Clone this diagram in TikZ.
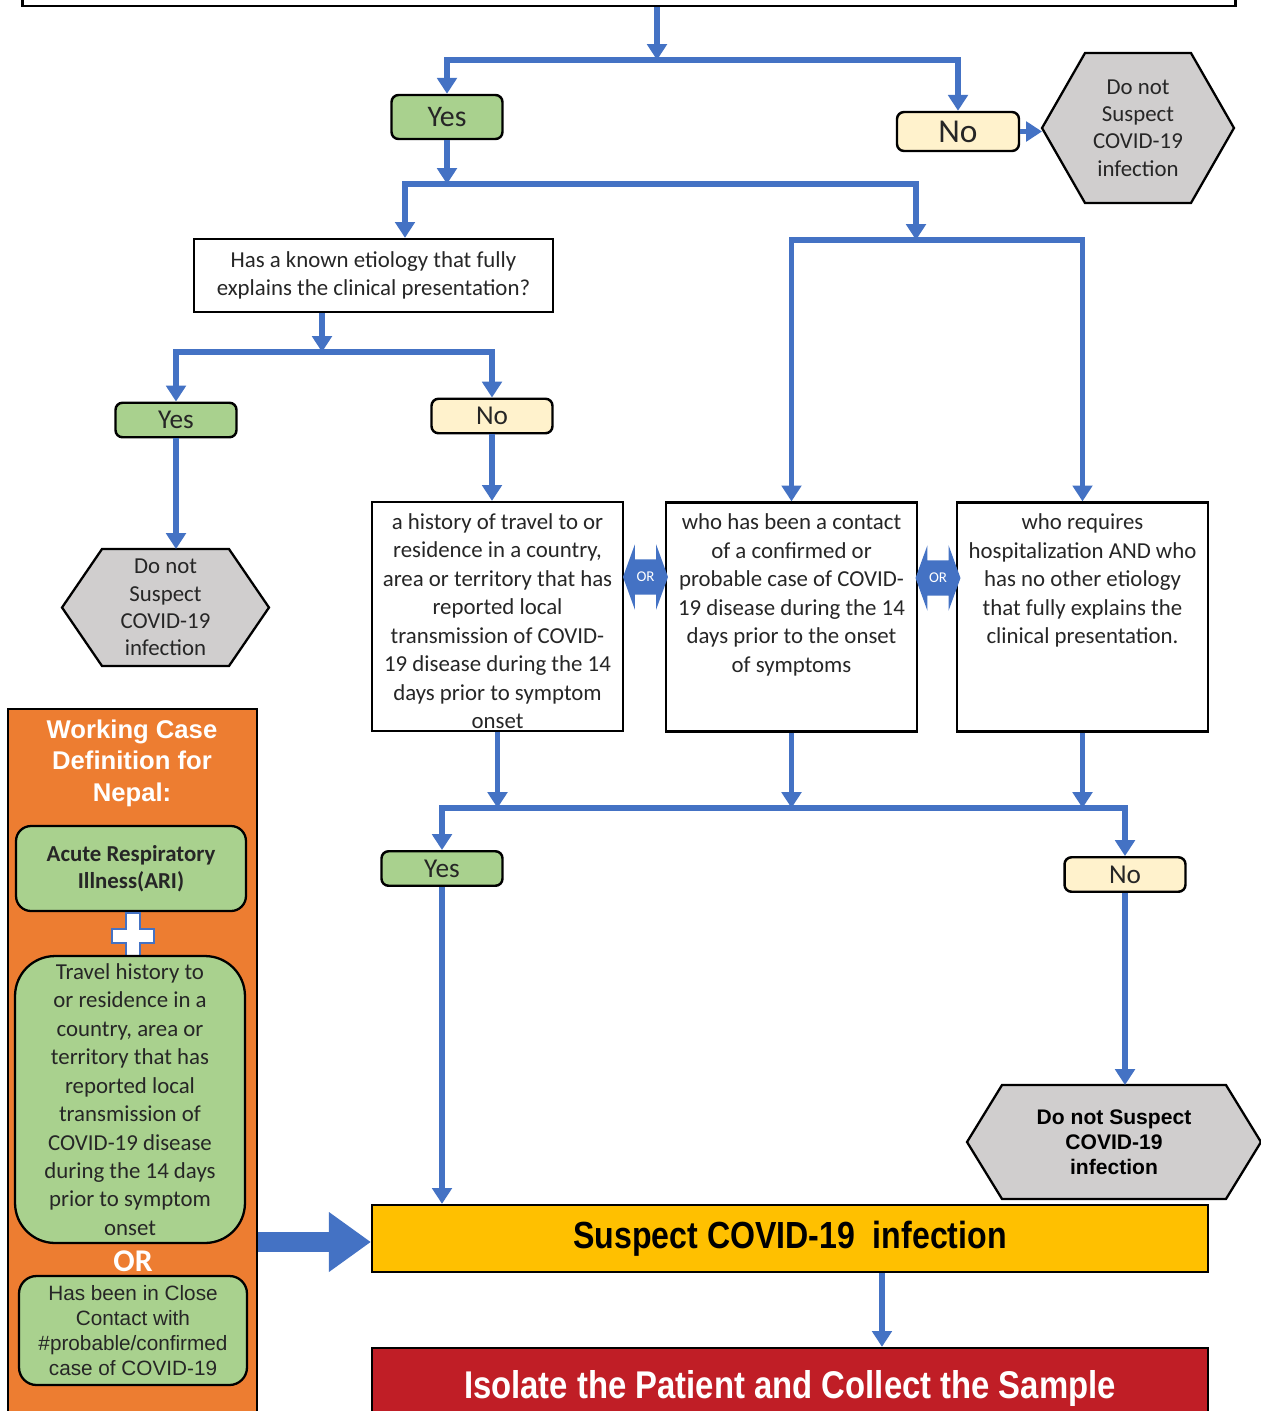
\documentclass[tikz,border=0pt]{standalone}
\usepackage{fontspec}
\setmainfont{Carlito}
\newfontfamily\arialfont{Liberation Sans}
\newfontfamily\narrowfont[FakeStretch=0.85]{Liberation Sans}
\usetikzlibrary{positioning,arrows.meta,shapes.arrows,backgrounds}
\definecolor{flowblue}{RGB}{68,114,196}
\definecolor{yesgreen}{RGB}{169,209,142}
\definecolor{nocream}{RGB}{255,242,204}
\definecolor{hexgray}{RGB}{208,206,206}
\definecolor{panelorange}{RGB}{237,125,49}
\definecolor{amber}{RGB}{255,192,0}
\definecolor{isored}{RGB}{192,30,38}
\definecolor{inkgray}{RGB}{38,38,38}

\begin{document}
\begin{tikzpicture}[x=0.02cm, y=-0.02cm,
    flow/.style={draw=flowblue, line width=3.2pt, -{Triangle[width=11pt,length=9pt]}},
    choice/.style={draw, line width=1.4pt, rounded corners=4pt, text=inkgray,
      minimum width=2.42cm, minimum height=0.69cm, inner sep=0pt,
      font=\fontsize{15.5pt}{17pt}\selectfont},
    yesbox/.style={choice, fill=yesgreen},
    nobox/.style={choice, fill=nocream},
    hexbox/.style={inner sep=0pt, outer sep=0pt, align=center, text=inkgray,
      font=\fontsize{13pt}{15.5pt}\selectfont},
    hexline/.style={draw, line width=1.3pt, fill=hexgray},
    critbox/.style={draw, line width=1.3pt, fill=white, minimum width=5.02cm, minimum height=4.58cm},
    crittext/.style={align=center, text=inkgray, inner sep=2pt, font=\fontsize{13pt}{16.2pt}\selectfont},
    orarrow/.style={double arrow, fill=flowblue, text=white, font=\fontsize{8.5pt}{9pt}\selectfont,
      double arrow tip angle=140, double arrow head extend=0.3cm, minimum height=0.9cm,
      inner xsep=1pt, inner ysep=7pt},
    defbox/.style={draw, line width=1.3pt, fill=yesgreen, align=center, text=inkgray},
    bigbar/.style={draw, line width=1.3pt, minimum width=16.72cm, align=center}]
  \useasboundingbox (0,0) rectangle (1261,1411);

  % top row
  \node[draw, line width=1.6pt, fill=white, minimum width=24.28cm, minimum height=1.04cm] (topbox) at (629,-20) {};
  \coordinate (j1) at (657,60);
  \node[yesbox, minimum width=2.22cm, minimum height=0.88cm, font=\fontsize{17pt}{18pt}\selectfont] (yes1) at (447,117) {Yes};
  \node[nobox, minimum width=2.44cm, minimum height=0.78cm, font=\fontsize{19pt}{20pt}\selectfont] (no1) at (958,131.5) {No};
  \node[hexbox, minimum width=3.84cm, minimum height=3cm] (hex1) at (1138,128) {Do not\\Suspect\\COVID-19\\infection};

  % etiology question
  \coordinate (j2) at (447,184);
  \node[draw, line width=1.3pt, fill=white, minimum width=7.18cm, minimum height=1.46cm, align=center,
    text=inkgray, font=\fontsize{13pt}{16pt}\selectfont] (etio) at (373.5,275.5)
    {Has a known etiology that fully\\explains the clinical presentation?};
  \coordinate (j3) at (916,240);
  \coordinate (j4) at (322,352);
  \node[yesbox] (yes2) at (176,420) {Yes};
  \node[nobox] (no2) at (492,416) {No};
  \node[hexbox, minimum width=4.14cm, minimum height=2.34cm] (hex2) at (165.5,607.5) {Do not\\Suspect\\COVID-19\\infection};

  % criteria
  \node[critbox] (boxA) at (497.5,616.5) {};
  \node[critbox] (boxB) at (791.5,617) {};
  \node[critbox] (boxC) at (1082.5,617) {};
  \node[crittext, below=5pt of boxA.north] (txtA) {a history of travel to or\\residence in a country,\\area or territory that has\\reported local\\transmission of COVID-\\19 disease during the 14\\days prior to symptom\\onset};
  \node[crittext, below=5pt of boxB.north] (txtB) {who has been a contact\\of a confirmed or\\probable case of COVID-\\19 disease during the 14\\days prior to the onset\\of symptoms};
  \node[crittext, below=5pt of boxC.north] (txtC) {who requires\\hospitalization AND who\\has no other etiology\\that fully explains the\\clinical presentation.};
  \node[orarrow] (orAB) at (645.5,577) {OR};
  \node[orarrow] (orBC) at (938,578) {OR};

  \coordinate (j5) at (791,808);
  \node[yesbox] (yes3) at (442,868.5) {Yes};
  \node[nobox] (no3) at (1125,874.5) {No};
  \node[hexbox, text=black, minimum width=5.88cm, minimum height=2.28cm,
    font=\arialfont\bfseries\fontsize{12pt}{14.2pt}\selectfont] (hex3) at (1114,1142) {Do not Suspect\\COVID-19\\infection};

  % outcome
  \node[bigbar, fill=amber, minimum height=1.34cm,
    font=\narrowfont\bfseries\fontsize{21.5pt}{24pt}\selectfont] (susp) at (790,1238.5) {Suspect COVID-19\ \ infection};
  \node[bigbar, fill=isored, minimum height=1.6cm, text=white,
    font=\narrowfont\bfseries\fontsize{22pt}{24pt}\selectfont] (isol) at (790,1388) {Isolate the Patient and Collect the Sample};

  % case definition panel
  \node[draw, line width=1.3pt, fill=panelorange, minimum width=4.98cm, minimum height=14.42cm] (panel) at (132.5,1069.5) {};
  \node[text=white, align=center, font=\arialfont\bfseries\fontsize{14.6pt}{17.9pt}\selectfont] (title) at (132,763) {Working Case\\Definition for\\Nepal:};
  \node[defbox, rounded corners=0.3cm, minimum width=4.6cm, minimum height=1.7cm,
    font=\bfseries\fontsize{13pt}{15.3pt}\selectfont] (ari) at (131,868.5) {Acute Respiratory\\Illness(ARI)};
  \draw[fill=white, draw=flowblue, line width=1.2pt] (126,913) -- (140,913) -- (140,929) -- (154,929) -- (154,943)
    -- (140,943) -- (140,958) -- (126,958) -- (126,943) -- (112,943) -- (112,929) -- (126,929) -- cycle;
  \node[defbox, rounded corners=0.8cm, minimum width=4.6cm, minimum height=5.74cm,
    font=\fontsize{13pt}{16.2pt}\selectfont] (travel) at (130,1099.5) {Travel history to\\or residence in a\\country, area or\\territory that has\\reported local\\transmission of\\COVID-19 disease\\during the 14 days\\prior to symptom\\onset};
  \node[text=white, font=\bfseries\fontsize{18pt}{19pt}\selectfont] (ortxt) at (133,1261) {OR};
  \node[defbox, rounded corners=0.35cm, minimum width=4.56cm, minimum height=2.18cm,
    font=\arialfont\fontsize{11.8pt}{14.2pt}\selectfont] (close) at (133,1330.5) {Has been in Close\\Contact with\\\#probable/confirmed\\case of COVID-19};

  % connectors
  \draw[flow] (topbox.south -| j1) -- (j1);
  \draw[flow] (j1) -| (yes1);
  \draw[flow] (j1) -| (no1);
  \draw[flow] (no1.east) -- (no1.east -| hex1.west);
  \draw[flow] (yes1) -- (j2);
  \draw[flow] (j2) -| ([xshift=0.63cm]etio.north);
  \draw[flow] (j2) -| (j3);
  \draw[flow] (j3) -| (boxB);
  \draw[flow] (j3) -| (boxC);
  \draw[flow] (etio.south -| j4) -- (j4);
  \draw[flow] (j4) -| (yes2);
  \draw[flow] (j4) -| (no2);
  \draw[flow] (yes2) -- (yes2 |- hex2.north);
  \draw[flow] (no2) -- (no2 |- boxA.north);
  \draw[flow] (boxA.south) -- (boxA.south |- j5);
  \draw[flow] (boxB.south) -- (boxB.south |- j5);
  \draw[flow] (boxC.south) -- (boxC.south |- j5);
  \draw[flow] (j5) -| (yes3);
  \draw[flow] (j5) -| (no3);
  \draw[flow] (yes3) -- (yes3 |- susp.north);
  \draw[flow] (no3) -- (no3 |- hex3.north);
  \draw[flow] ([xshift=1.84cm]susp.south) -- ([xshift=1.84cm]isol.north);
  \draw[flowblue, line width=0.4cm, -{Triangle[width=1.14cm,length=0.84cm]}] ([yshift=-0.07cm]susp.west -| panel.east) -- ([yshift=-0.07cm]susp.west);

  % hexagon outlines and page
  \begin{scope}[on background layer]
    \fill[white] (0,0) rectangle (1261,1411);
    \draw[hexline] (hex1.west) -- ([xshift=0.86cm]hex1.north west) -- ([xshift=-0.86cm]hex1.north east)
      -- (hex1.east) -- ([xshift=-0.86cm]hex1.south east) -- ([xshift=0.86cm]hex1.south west) -- cycle;
    \draw[hexline] (hex2.west) -- ([xshift=0.8cm]hex2.north west) -- ([xshift=-0.8cm]hex2.north east)
      -- (hex2.east) -- ([xshift=-0.8cm]hex2.south east) -- ([xshift=0.8cm]hex2.south west) -- cycle;
    \draw[hexline] (hex3.west) -- ([xshift=0.7cm]hex3.north west) -- ([xshift=-0.7cm]hex3.north east)
      -- (hex3.east) -- ([xshift=-0.7cm]hex3.south east) -- ([xshift=0.7cm]hex3.south west) -- cycle;
  \end{scope}
\end{tikzpicture}
\end{document}
